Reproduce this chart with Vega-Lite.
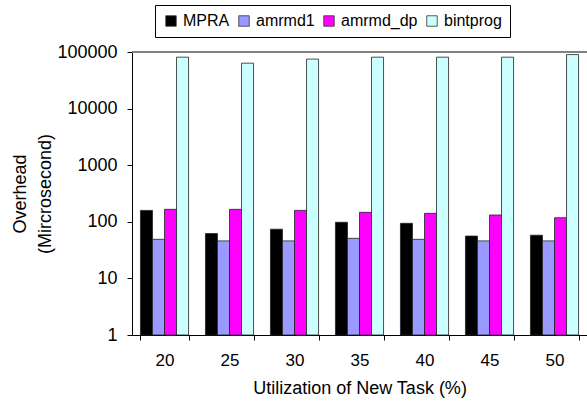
{
  "$schema": "https://vega.github.io/schema/vega-lite/v6.json",
  "autosize": "none",
  "width": 455,
  "height": 283,
  "padding": {"left": 132, "top": 52, "right": 0, "bottom": 71},
  "background": "white",
  "config": {
    "view": {"stroke": null},
    "font": "Liberation Sans",
    "axis": {"labelFont": "Liberation Sans", "titleFont": "Liberation Sans", "labelColor": "black", "titleColor": "black", "domainColor": "black", "tickColor": "black"}
  },
  "data": {
    "values": [
      {"util": "20", "series": "MPRA", "value": 159},
      {"util": "20", "series": "amrmd1", "value": 49},
      {"util": "20", "series": "amrmd_dp", "value": 166},
      {"util": "20", "series": "bintprog", "value": 81000},
      {"util": "25", "series": "MPRA", "value": 62},
      {"util": "25", "series": "amrmd1", "value": 46},
      {"util": "25", "series": "amrmd_dp", "value": 166},
      {"util": "25", "series": "bintprog", "value": 63500},
      {"util": "30", "series": "MPRA", "value": 74},
      {"util": "30", "series": "amrmd1", "value": 46},
      {"util": "30", "series": "amrmd_dp", "value": 159},
      {"util": "30", "series": "bintprog", "value": 75000},
      {"util": "35", "series": "MPRA", "value": 98},
      {"util": "35", "series": "amrmd1", "value": 51},
      {"util": "35", "series": "amrmd_dp", "value": 147},
      {"util": "35", "series": "bintprog", "value": 81000},
      {"util": "40", "series": "MPRA", "value": 94},
      {"util": "40", "series": "amrmd1", "value": 49},
      {"util": "40", "series": "amrmd_dp", "value": 141},
      {"util": "40", "series": "bintprog", "value": 81000},
      {"util": "45", "series": "MPRA", "value": 56},
      {"util": "45", "series": "amrmd1", "value": 46},
      {"util": "45", "series": "amrmd_dp", "value": 132},
      {"util": "45", "series": "bintprog", "value": 81000},
      {"util": "50", "series": "MPRA", "value": 58},
      {"util": "50", "series": "amrmd1", "value": 46},
      {"util": "50", "series": "amrmd_dp", "value": 118},
      {"util": "50", "series": "bintprog", "value": 90000}
    ]
  },
  "layer": [
    {
      "mark": {"type": "rule", "color": "#808080", "strokeWidth": 1},
      "encoding": {"y": {"datum": 100000, "type": "quantitative", "scale": {"type": "log", "domain": [1, 100000]}}}
    },
    {
      "mark": {"type": "bar", "stroke": "#222222", "strokeWidth": 0.8},
      "encoding": {
        "x": {
          "field": "util", "type": "ordinal", "sort": ["20", "25", "30", "35", "40", "45", "50"],
          "scale": {"paddingInner": 0.26, "paddingOuter": 0.13},
          "axis": {
            "title": "Utilization of New Task (%)", "labelAngle": 0, "tickBand": "extent",
            "tickSize": 5, "labelPadding": 12, "labelFontSize": 17, "titleFontSize": 18,
            "titleFontWeight": "normal", "titlePadding": 11, "domainWidth": 1
          }
        },
        "xOffset": {"field": "series", "type": "nominal", "sort": ["MPRA", "amrmd1", "amrmd_dp", "bintprog"]},
        "y": {
          "field": "value", "type": "quantitative",
          "scale": {"type": "log", "domain": [1, 100000]},
          "axis": {
            "title": ["Overhead", "(Mircrosecond)"], "values": [1, 10, 100, 1000, 10000, 100000],
            "format": "d", "grid": false, "tickSize": 5, "labelPadding": 10, "labelFontSize": 18,
            "titleFontSize": 18, "titleFontWeight": "normal", "titlePadding": 2, "titleLineHeight": 25
          }
        },
        "y2": {"datum": 1},
        "color": {
          "field": "series", "type": "nominal",
          "sort": ["MPRA", "amrmd1", "amrmd_dp", "bintprog"],
          "scale": {"domain": ["MPRA", "amrmd1", "amrmd_dp", "bintprog"], "range": ["#000000", "#9999FF", "#FF00FF", "#CCFFFF"]},
          "legend": {
            "title": null, "orient": "none", "direction": "horizontal", "columns": 4,
            "legendX": 23, "legendY": -47, "strokeColor": "black", "padding": 8,
            "symbolType": "square", "symbolSize": 110, "symbolStrokeColor": "#333333", "symbolStrokeWidth": 0.8,
            "symbolOpacity": 1,
            "labelFontSize": 16, "labelFont": "Liberation Sans", "labelColor": "black", "labelOffset": 4, "columnPadding": 6
          }
        }
      }
    }
  ]
}
